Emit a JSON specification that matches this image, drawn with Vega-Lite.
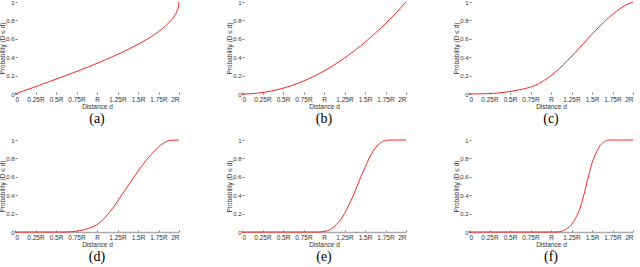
{
  "$schema": "https://vega.github.io/schema/vega-lite/v6.json",
  "padding": {"left": -1, "top": -1, "right": 0, "bottom": 0},
  "background": "white",
  "config": {
    "view": {"stroke": null},
    "font": "Liberation Sans",
    "axis": {
      "labelFont": "Liberation Sans",
      "labelFontSize": 6.5,
      "labelColor": "#333",
      "titleFont": "Liberation Sans",
      "titleFontSize": 6.5,
      "titleFontWeight": "normal",
      "titleColor": "#333",
      "grid": false,
      "domain": false,
      "tickColor": "#555",
      "tickSize": -2,
      "tickWidth": 0.8,
      "labelPadding": 4
    },
    "axisX": {"titlePadding": 1},
    "axisY": {"titlePadding": 0, "labelPadding": 3, "labelFontSize": 6},
    "title": {"font": "Liberation Serif", "fontSize": 14, "fontWeight": "normal", "color": "#000", "orient": "bottom", "offset": 2},
    "line": {"color": "#ff2424", "strokeWidth": 1, "interpolate": "monotone"}
  },
  "datasets": {
    "a": [
      {"d": 0, "p": 0}, {"d": 0.1, "p": 0.032}, {"d": 0.2, "p": 0.064}, {"d": 0.3, "p": 0.096},
      {"d": 0.4, "p": 0.128}, {"d": 0.5, "p": 0.161}, {"d": 0.6, "p": 0.194}, {"d": 0.7, "p": 0.228},
      {"d": 0.8, "p": 0.262}, {"d": 0.9, "p": 0.297}, {"d": 1.0, "p": 0.333}, {"d": 1.1, "p": 0.371},
      {"d": 1.2, "p": 0.41}, {"d": 1.3, "p": 0.451}, {"d": 1.4, "p": 0.494}, {"d": 1.5, "p": 0.54},
      {"d": 1.6, "p": 0.59}, {"d": 1.7, "p": 0.647}, {"d": 1.8, "p": 0.713}, {"d": 1.85, "p": 0.752},
      {"d": 1.9, "p": 0.798}, {"d": 1.95, "p": 0.857}, {"d": 1.98, "p": 0.91}, {"d": 1.995, "p": 0.955},
      {"d": 2.0, "p": 1.0}
    ],
    "b": [
      {"d": 0, "p": 0}, {"d": 0.1, "p": 0.0025}, {"d": 0.2, "p": 0.01}, {"d": 0.3, "p": 0.0225},
      {"d": 0.4, "p": 0.04}, {"d": 0.5, "p": 0.0625}, {"d": 0.6, "p": 0.09}, {"d": 0.7, "p": 0.1225},
      {"d": 0.8, "p": 0.16}, {"d": 0.9, "p": 0.2025}, {"d": 1.0, "p": 0.25}, {"d": 1.1, "p": 0.3025},
      {"d": 1.2, "p": 0.36}, {"d": 1.3, "p": 0.4225}, {"d": 1.4, "p": 0.49}, {"d": 1.5, "p": 0.5625},
      {"d": 1.6, "p": 0.64}, {"d": 1.7, "p": 0.7225}, {"d": 1.8, "p": 0.81}, {"d": 1.9, "p": 0.9025},
      {"d": 2.0, "p": 1.0}
    ],
    "c": [
      {"d": 0, "p": 0}, {"d": 0.1, "p": 0.001}, {"d": 0.2, "p": 0.003}, {"d": 0.3, "p": 0.007},
      {"d": 0.4, "p": 0.015}, {"d": 0.5, "p": 0.028}, {"d": 0.6, "p": 0.043}, {"d": 0.7, "p": 0.063},
      {"d": 0.8, "p": 0.092}, {"d": 0.9, "p": 0.138}, {"d": 1.0, "p": 0.2}, {"d": 1.1, "p": 0.275},
      {"d": 1.2, "p": 0.362}, {"d": 1.3, "p": 0.455}, {"d": 1.4, "p": 0.553}, {"d": 1.5, "p": 0.65},
      {"d": 1.6, "p": 0.742}, {"d": 1.7, "p": 0.827}, {"d": 1.8, "p": 0.9}, {"d": 1.9, "p": 0.96},
      {"d": 2.0, "p": 1.0}
    ],
    "d": [
      {"d": 0, "p": 0}, {"d": 0.2, "p": 0}, {"d": 0.4, "p": 0}, {"d": 0.6, "p": 0},
      {"d": 0.7, "p": 0.004}, {"d": 0.8, "p": 0.016}, {"d": 0.9, "p": 0.04}, {"d": 1.0, "p": 0.08},
      {"d": 1.1, "p": 0.16}, {"d": 1.2, "p": 0.27}, {"d": 1.3, "p": 0.4}, {"d": 1.4, "p": 0.53},
      {"d": 1.5, "p": 0.66}, {"d": 1.6, "p": 0.78}, {"d": 1.7, "p": 0.88}, {"d": 1.75, "p": 0.925},
      {"d": 1.8, "p": 0.96}, {"d": 1.85, "p": 0.985}, {"d": 1.9, "p": 0.997}, {"d": 2.0, "p": 1.0}
    ],
    "e": [
      {"d": 0, "p": 0}, {"d": 0.3, "p": 0}, {"d": 0.6, "p": 0}, {"d": 0.9, "p": 0},
      {"d": 0.95, "p": 0.001}, {"d": 1.0, "p": 0.005}, {"d": 1.05, "p": 0.015}, {"d": 1.1, "p": 0.04},
      {"d": 1.15, "p": 0.08}, {"d": 1.2, "p": 0.13}, {"d": 1.25, "p": 0.2}, {"d": 1.3, "p": 0.29},
      {"d": 1.35, "p": 0.38}, {"d": 1.4, "p": 0.49}, {"d": 1.45, "p": 0.6}, {"d": 1.5, "p": 0.7},
      {"d": 1.55, "p": 0.8}, {"d": 1.6, "p": 0.88}, {"d": 1.65, "p": 0.94}, {"d": 1.7, "p": 0.975},
      {"d": 1.75, "p": 0.995}, {"d": 1.8, "p": 1.0}, {"d": 1.9, "p": 1.0}, {"d": 2.0, "p": 1.0}
    ],
    "f": [
      {"d": 0, "p": 0}, {"d": 0.35, "p": 0}, {"d": 0.7, "p": 0}, {"d": 1.05, "p": 0},
      {"d": 1.1, "p": 0.003}, {"d": 1.15, "p": 0.015}, {"d": 1.2, "p": 0.04}, {"d": 1.25, "p": 0.08},
      {"d": 1.3, "p": 0.15}, {"d": 1.35, "p": 0.25}, {"d": 1.4, "p": 0.4}, {"d": 1.45, "p": 0.58},
      {"d": 1.5, "p": 0.75}, {"d": 1.55, "p": 0.86}, {"d": 1.6, "p": 0.94}, {"d": 1.65, "p": 0.98},
      {"d": 1.7, "p": 1.0}, {"d": 1.8, "p": 1.0}, {"d": 1.9, "p": 1.0}, {"d": 2.0, "p": 1.0}
    ]
  },
  "bounds": "flush",
  "columns": 3,
  "spacing": {"row": 46, "column": 63},
  "concat": [
    {
      "width": 164, "height": 92,
      "data": {"name": "a"},
      "title": {"text": "(a)"},
      "mark": {"type": "line"},
      "encoding": {
        "x": {"field": "d", "type": "quantitative", "scale": {"domain": [0, 2], "nice": false},
          "axis": {"title": "Distance d", "values": [0, 0.25, 0.5, 0.75, 1, 1.25, 1.5, 1.75, 2],
            "labelExpr": "datum.value == 0 ? '0' : datum.value == 1 ? 'R' : datum.value + 'R'"}},
        "y": {"field": "p", "type": "quantitative", "scale": {"domain": [0, 1], "nice": false},
          "axis": {"title": "Probability (D ≤ d)", "values": [0, 0.2, 0.4, 0.6, 0.8, 1], "format": "~g"}}
      }
    },
    {
      "width": 164, "height": 92,
      "data": {"name": "b"},
      "title": {"text": "(b)"},
      "mark": {"type": "line"},
      "encoding": {
        "x": {"field": "d", "type": "quantitative", "scale": {"domain": [0, 2], "nice": false},
          "axis": {"title": "Distance d", "values": [0, 0.25, 0.5, 0.75, 1, 1.25, 1.5, 1.75, 2],
            "labelExpr": "datum.value == 0 ? '0' : datum.value == 1 ? 'R' : datum.value + 'R'"}},
        "y": {"field": "p", "type": "quantitative", "scale": {"domain": [0, 1], "nice": false},
          "axis": {"title": "Probability (D ≤ d)", "values": [0, 0.2, 0.4, 0.6, 0.8, 1], "format": "~g"}}
      }
    },
    {
      "width": 164, "height": 92,
      "data": {"name": "c"},
      "title": {"text": "(c)"},
      "mark": {"type": "line"},
      "encoding": {
        "x": {"field": "d", "type": "quantitative", "scale": {"domain": [0, 2], "nice": false},
          "axis": {"title": "Distance d", "values": [0, 0.25, 0.5, 0.75, 1, 1.25, 1.5, 1.75, 2],
            "labelExpr": "datum.value == 0 ? '0' : datum.value == 1 ? 'R' : datum.value + 'R'"}},
        "y": {"field": "p", "type": "quantitative", "scale": {"domain": [0, 1], "nice": false},
          "axis": {"title": "Probability (D ≤ d)", "values": [0, 0.2, 0.4, 0.6, 0.8, 1], "format": "~g"}}
      }
    },
    {
      "width": 164, "height": 92,
      "data": {"name": "d"},
      "title": {"text": "(d)"},
      "mark": {"type": "line"},
      "encoding": {
        "x": {"field": "d", "type": "quantitative", "scale": {"domain": [0, 2], "nice": false},
          "axis": {"title": "Distance d", "domain": true, "domainColor": "#aaa", "domainWidth": 1.5, "values": [0, 0.25, 0.5, 0.75, 1, 1.25, 1.5, 1.75, 2],
            "labelExpr": "datum.value == 0 ? '0' : datum.value == 1 ? 'R' : datum.value + 'R'"}},
        "y": {"field": "p", "type": "quantitative", "scale": {"domain": [0, 1], "nice": false},
          "axis": {"title": "Probability (D ≤ d)", "values": [0, 0.2, 0.4, 0.6, 0.8, 1], "format": "~g"}}
      }
    },
    {
      "width": 164, "height": 92,
      "data": {"name": "e"},
      "title": {"text": "(e)"},
      "mark": {"type": "line"},
      "encoding": {
        "x": {"field": "d", "type": "quantitative", "scale": {"domain": [0, 2], "nice": false},
          "axis": {"title": "Distance d", "domain": true, "domainColor": "#aaa", "domainWidth": 1.5, "values": [0, 0.25, 0.5, 0.75, 1, 1.25, 1.5, 1.75, 2],
            "labelExpr": "datum.value == 0 ? '0' : datum.value == 1 ? 'R' : datum.value + 'R'"}},
        "y": {"field": "p", "type": "quantitative", "scale": {"domain": [0, 1], "nice": false},
          "axis": {"title": "Probability (D ≤ d)", "values": [0, 0.2, 0.4, 0.6, 0.8, 1], "format": "~g"}}
      }
    },
    {
      "width": 164, "height": 92,
      "data": {"name": "f"},
      "title": {"text": "(f)"},
      "mark": {"type": "line"},
      "encoding": {
        "x": {"field": "d", "type": "quantitative", "scale": {"domain": [0, 2], "nice": false},
          "axis": {"title": "Distance d", "domain": true, "domainColor": "#aaa", "domainWidth": 1.5, "values": [0, 0.25, 0.5, 0.75, 1, 1.25, 1.5, 1.75, 2],
            "labelExpr": "datum.value == 0 ? '0' : datum.value == 1 ? 'R' : datum.value + 'R'"}},
        "y": {"field": "p", "type": "quantitative", "scale": {"domain": [0, 1], "nice": false},
          "axis": {"title": "Probability (D ≤ d)", "values": [0, 0.2, 0.4, 0.6, 0.8, 1], "format": "~g"}}
      }
    }
  ]
}
